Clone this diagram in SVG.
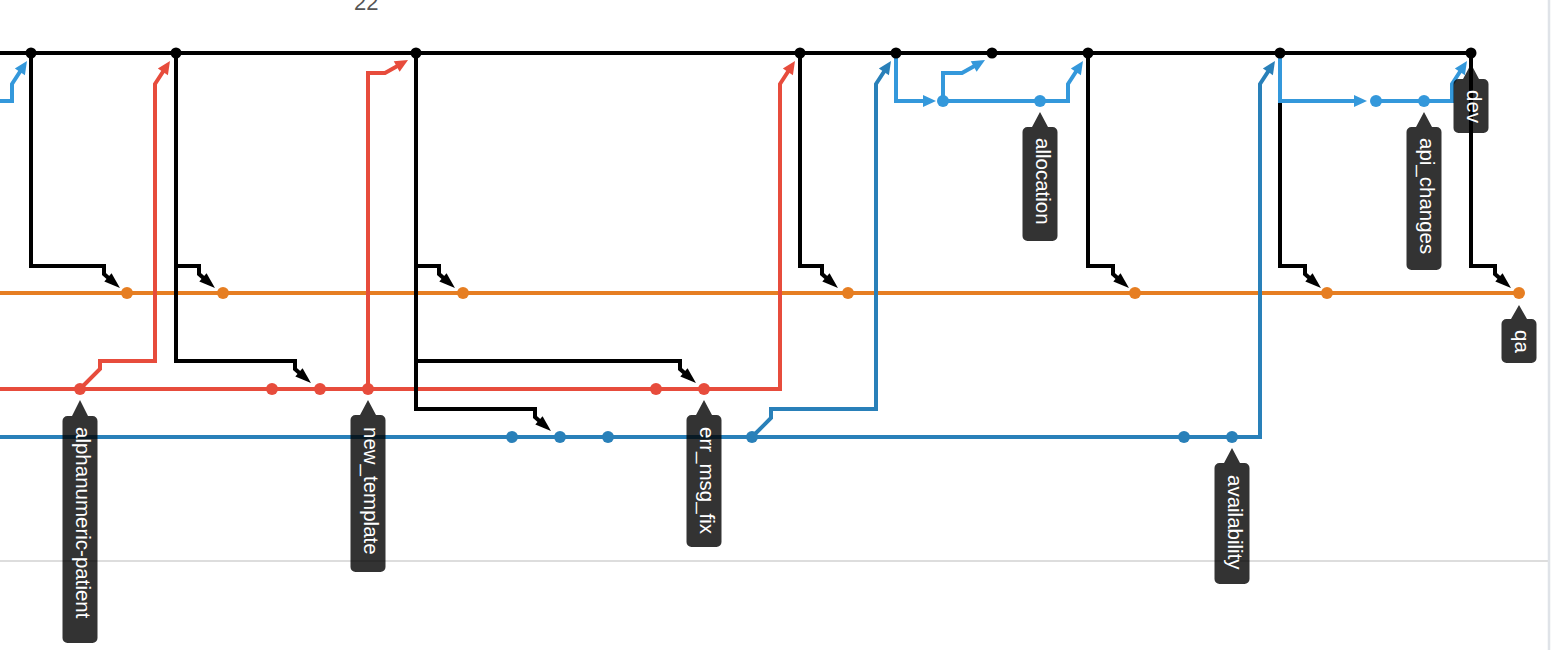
<svg xmlns="http://www.w3.org/2000/svg" width="1568" height="650" viewBox="0 0 1568 650">
<style>
.ln{fill:none;stroke-width:4;stroke-linejoin:miter}
.k{stroke:#000}.o{stroke:#e67e22}.r{stroke:#e74c3c}.b{stroke:#2980b9}.lb{stroke:#3498db}
.dk{fill:#000}.do{fill:#e67e22}.dr{fill:#e74c3c}.db{fill:#2980b9}.dlb{fill:#3498db}
.tag{fill:#000;fill-opacity:0.8}
.tt{fill:#fff;font-family:"Liberation Sans",Arial,sans-serif;font-size:20.5px}
.grid{stroke:#dddddd;stroke-width:2;fill:none}
</style>
<defs>
<marker id="ak" markerUnits="userSpaceOnUse" markerWidth="16" markerHeight="11" refX="9" refY="5.5" orient="auto" overflow="visible"><path d="M0,0 L16,5.5 L0,11 Z" fill="#000"/></marker>
<marker id="ar" markerUnits="userSpaceOnUse" markerWidth="13" markerHeight="12" refX="7" refY="6" orient="auto" overflow="visible"><path d="M0,0 L13,6 L0,12 Z" fill="#e74c3c"/></marker>
<marker id="ab" markerUnits="userSpaceOnUse" markerWidth="13" markerHeight="12" refX="7" refY="6" orient="auto" overflow="visible"><path d="M0,0 L13,6 L0,12 Z" fill="#2980b9"/></marker>
<marker id="alb" markerUnits="userSpaceOnUse" markerWidth="13" markerHeight="12" refX="7" refY="6" orient="auto" overflow="visible"><path d="M0,0 L13,6 L0,12 Z" fill="#3498db"/></marker>
</defs>
<rect width="1568" height="650" fill="#fff"/>
<g id="frame">
<line class="grid" x1="0" y1="561" x2="1548" y2="561"/>
<line x1="1549" y1="0" x2="1549" y2="650" stroke="#dfe3e8" stroke-width="2.5"/>
<text x="354" y="10" font-family="Liberation Sans,Arial,sans-serif" font-size="22" fill="#555">22</text>
</g>
<g id="branches">
<path class="ln o" d="M0,293 H1519"/>
<path class="ln r" d="M0,389 H704"/>
<path class="ln b" d="M0,437 H1232"/>
<path class="ln lb" d="M943,101 H1040"/>
<path class="ln lb" d="M1376,101 H1424"/>
<path class="ln k" d="M0,53 H1471"/>
</g>
<g id="connectors">
<g marker-end="url(#ak)">
<path class="ln k" d="M31,53 V266 H104 V274 L114.7,283.4"/>
<path class="ln k" d="M176,53 V266 H199 V274 L209.7,283.4"/>
<path class="ln k" d="M176,53 V361 H295 V369 L305.7,378.4"/>
<path class="ln k" d="M416,53 V266 H439 V274 L449.7,283.4"/>
<path class="ln k" d="M416,53 V361 H680 V369 L690.7,378.4"/>
<path class="ln k" d="M416,53 V409 H535 V417 L545.7,426.4"/>
<path class="ln k" d="M800,53 V266 H822 V274 L832.7,283.4"/>
<path class="ln k" d="M1088,53 V266 H1113 V274 L1123.7,283.4"/>
<path class="ln k" d="M1280,53 V266 H1305 V274 L1315.7,283.4"/>
<path class="ln k" d="M1471,53 V266 H1495 V274 L1505.7,283.4"/>
</g>
<g marker-end="url(#ar)">
<path class="ln r" d="M80,389 L100,369 V361 H155 V84 L166.7,66"/>
<path class="ln r" d="M368,389 V73 H385 L402.8,63"/>
<path class="ln r" d="M704,389 H780 V84 L791.7,66"/>
</g>
<g marker-end="url(#ab)">
<path class="ln b" d="M752,437 L771,418 V409 H876 V84 L887.7,66"/>
<path class="ln b" d="M1232,437 H1260 V84 L1271.7,66"/>
</g>
<g marker-end="url(#alb)">
<path class="ln lb" d="M0,101 H12 V84 L23.7,66"/>
<path class="ln lb" d="M896,53 V101 H930"/>
<path class="ln lb" d="M943,101 V73 H962 L979.8,63"/>
<path class="ln lb" d="M1040,101 H1068 V84 L1079.7,66"/>
<path class="ln lb" d="M1280,53 V101 H1361"/>
<path class="ln lb" d="M1424,101 H1452 V84 L1463.7,66"/>
</g>
</g>
<g id="commits">
<g id="dev-commits" class="dk">
<circle cx="31" cy="53" r="5.5"/><circle cx="176" cy="53" r="5.5"/><circle cx="416" cy="53" r="5.5"/><circle cx="800" cy="53" r="5.5"/><circle cx="896" cy="53" r="5.5"/><circle cx="992" cy="53" r="5.5"/><circle cx="1088" cy="53" r="5.5"/><circle cx="1280" cy="53" r="5.5"/><circle cx="1471" cy="53" r="5.5"/>
</g>
<g id="qa-commits" class="do">
<circle cx="127" cy="293" r="6"/><circle cx="223" cy="293" r="6"/><circle cx="463" cy="293" r="6"/><circle cx="848" cy="293" r="6"/><circle cx="1135" cy="293" r="6"/><circle cx="1327" cy="293" r="6"/><circle cx="1519" cy="293" r="6"/>
</g>
<g id="red-commits" class="dr">
<circle cx="80" cy="389" r="6"/><circle cx="272" cy="389" r="6"/><circle cx="320" cy="389" r="6"/><circle cx="368" cy="389" r="6"/><circle cx="656" cy="389" r="6"/><circle cx="704" cy="389" r="6"/>
</g>
<g id="blue-commits" class="db">
<circle cx="512" cy="437" r="6"/><circle cx="560" cy="437" r="6"/><circle cx="608" cy="437" r="6"/><circle cx="752" cy="437" r="6"/><circle cx="1184" cy="437" r="6"/><circle cx="1232" cy="437" r="6"/>
</g>
<g id="lightblue-commits" class="dlb">
<circle cx="943" cy="101" r="6"/><circle cx="1040" cy="101" r="6"/><circle cx="1376" cy="101" r="6"/><circle cx="1424" cy="101" r="6"/>
</g>
</g>
<g id="label-alphanumeric-patient">
<path class="tag" d="M67.5,416 H72 L80,400 L88,416 H92.5 a5,5 0 0 1 5,5 V638 a5,5 0 0 1 -5,5 H67.5 a5,5 0 0 1 -5,-5 V421 a5,5 0 0 1 5,-5 Z"/>
<text class="tt" transform="translate(80,427) rotate(90)" x="0" y="4.3">alphanumeric-patient</text>
</g>
<g id="label-new_template">
<path class="tag" d="M355.5,415 H360 L368,400 L376,415 H380.5 a5,5 0 0 1 5,5 V567 a5,5 0 0 1 -5,5 H355.5 a5,5 0 0 1 -5,-5 V420 a5,5 0 0 1 5,-5 Z"/>
<text class="tt" transform="translate(368,427) rotate(90)" x="0" y="4.3">new_template</text>
</g>
<g id="label-err_msg_fix">
<path class="tag" d="M691.5,415 H696 L704,400 L712,415 H716.5 a5,5 0 0 1 5,5 V542 a5,5 0 0 1 -5,5 H691.5 a5,5 0 0 1 -5,-5 V420 a5,5 0 0 1 5,-5 Z"/>
<text class="tt" transform="translate(704,427) rotate(90)" x="0" y="4.3">err_msg_fix</text>
</g>
<g id="label-availability">
<path class="tag" d="M1219.5,463 H1224 L1232,448 L1240,463 H1244.5 a5,5 0 0 1 5,5 V579 a5,5 0 0 1 -5,5 H1219.5 a5,5 0 0 1 -5,-5 V468 a5,5 0 0 1 5,-5 Z"/>
<text class="tt" transform="translate(1232,475) rotate(90)" x="0" y="4.3">availability</text>
</g>
<g id="label-allocation">
<path class="tag" d="M1027.5,127 H1032 L1040,112 L1048,127 H1052.5 a5,5 0 0 1 5,5 V236 a5,5 0 0 1 -5,5 H1027.5 a5,5 0 0 1 -5,-5 V132 a5,5 0 0 1 5,-5 Z"/>
<text class="tt" transform="translate(1040,138) rotate(90)" x="0" y="4.3">allocation</text>
</g>
<g id="label-api_changes">
<path class="tag" d="M1411.5,127 H1416 L1424,112 L1432,127 H1436.5 a5,5 0 0 1 5,5 V265 a5,5 0 0 1 -5,5 H1411.5 a5,5 0 0 1 -5,-5 V132 a5,5 0 0 1 5,-5 Z"/>
<text class="tt" transform="translate(1424,138) rotate(90)" x="0" y="4.3">api_changes</text>
</g>
<g id="label-dev">
<path class="tag" d="M1458.5,79 H1463 L1471,64 L1479,79 H1483.5 a5,5 0 0 1 5,5 V128 a5,5 0 0 1 -5,5 H1458.5 a5,5 0 0 1 -5,-5 V84 a5,5 0 0 1 5,-5 Z"/>
<text class="tt" transform="translate(1471,90) rotate(90)" x="0" y="4.3">dev</text>
</g>
<g id="label-qa">
<path class="tag" d="M1506.5,319 H1511 L1519,305 L1527,319 H1531.5 a5,5 0 0 1 5,5 V358 a5,5 0 0 1 -5,5 H1506.5 a5,5 0 0 1 -5,-5 V324 a5,5 0 0 1 5,-5 Z"/>
<text class="tt" transform="translate(1519,330) rotate(90)" x="0" y="4.3">qa</text>
</g>
</svg>
